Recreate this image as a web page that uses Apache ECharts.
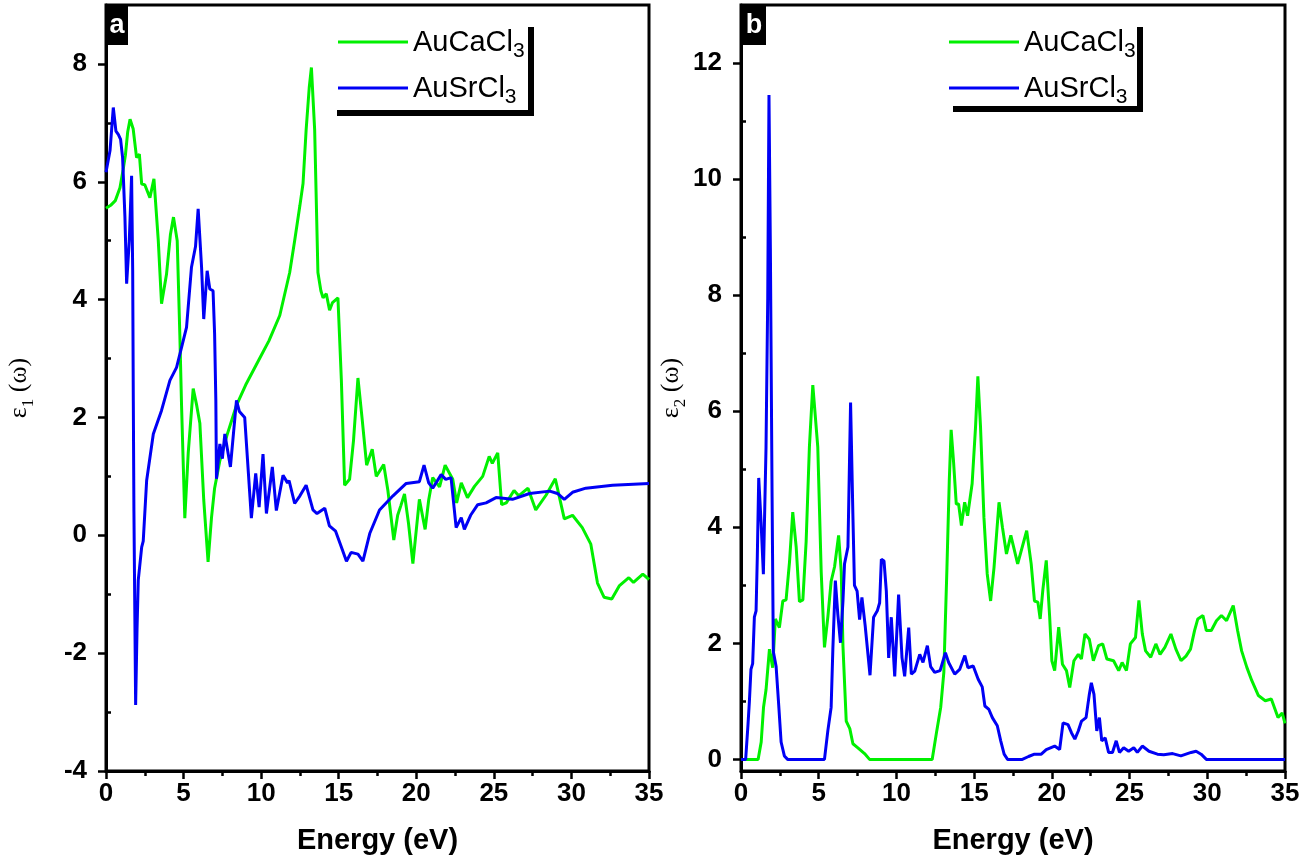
<!DOCTYPE html>
<html><head><meta charset="utf-8">
<script src="https://cdn.jsdelivr.net/npm/echarts@6/dist/echarts.min.js"></script>
<style>html,body{margin:0;padding:0;background:#fff}#c{width:1306px;height:865px}</style>
</head><body><div id="c"></div>
<script>
const materials = ['AuCaCl3', 'AuSrCl3'];
const panelLabels = ['a', 'b'];
const xLabelName = 'Energy (eV)';

// Panel a: real part epsilon_1 (Energy eV, value)
const eps1_AuCaCl3 = [[0,5.55],[0.3,5.6],[0.6,5.68],[0.9,5.9],[1.1,6.2],[1.25,6.45],[1.4,6.85],[1.55,7.06],[1.75,6.9],[1.97,6.41],[2.15,6.47],[2.3,5.96],[2.5,5.95],[2.62,5.96],[2.83,5.73],[3.09,6.05],[3.37,5.0],[3.58,3.93],[3.9,4.43],[4.15,5.1],[4.35,5.4],[4.59,5.0],[4.76,3.4],[4.87,2.2],[5.08,0.29],[5.3,1.4],[5.62,2.49],[5.85,2.2],[6.05,1.9],[6.3,0.6],[6.58,-0.45],[6.8,0.3],[7.0,0.8],[7.34,1.27],[7.8,1.7],[8.4,2.2],[9.0,2.55],[9.9,3.0],[10.5,3.3],[11.2,3.73],[11.84,4.46],[12.16,5.0],[12.5,5.6],[12.7,5.97],[12.9,6.88],[13.1,7.6],[13.24,7.94],[13.45,6.88],[13.66,4.46],[13.85,4.15],[13.99,4.03],[14.2,4.1],[14.41,3.82],[14.6,3.95],[14.95,4.03],[15.17,2.64],[15.38,0.85],[15.7,0.95],[15.95,1.6],[16.24,2.67],[16.5,2.0],[16.8,1.19],[17.16,1.46],[17.42,1.0],[17.9,1.2],[18.17,0.76],[18.55,-0.08],[18.8,0.34],[19.0,0.5],[19.24,0.7],[19.5,0.2],[19.78,-0.48],[20.2,0.61],[20.57,0.1],[20.8,0.6],[21.06,0.98],[21.5,0.82],[21.86,1.19],[22.35,0.95],[22.6,0.55],[22.9,0.89],[23.3,0.64],[23.75,0.83],[24.28,1.0],[24.7,1.34],[24.9,1.22],[25.25,1.4],[25.5,0.52],[25.8,0.55],[26.3,0.76],[26.6,0.67],[27.2,0.8],[27.7,0.43],[28.36,0.68],[28.96,0.96],[29.54,0.28],[30.07,0.34],[30.7,0.13],[31.25,-0.15],[31.68,-0.81],[32.1,-1.05],[32.6,-1.08],[33.08,-0.86],[33.7,-0.72],[34.0,-0.8],[34.6,-0.66],[35,-0.75]];
const eps1_AuSrCl3 = [[0,6.16],[0.26,6.53],[0.47,7.26],[0.64,6.86],[0.8,6.8],[0.94,6.72],[1.07,6.41],[1.22,5.4],[1.33,4.27],[1.5,5.0],[1.65,6.1],[1.72,4.5],[1.76,2.29],[1.8,0.4],[1.91,-2.88],[2.0,-1.6],[2.08,-0.76],[2.3,-0.2],[2.4,-0.1],[2.62,0.93],[3.05,1.72],[3.58,2.12],[4.12,2.63],[4.55,2.85],[5.19,3.53],[5.51,4.55],[5.77,4.9],[5.94,5.54],[6.16,4.55],[6.3,3.67],[6.52,4.49],[6.69,4.18],[6.9,4.15],[7.0,3.42],[7.08,2.29],[7.12,0.96],[7.34,1.55],[7.5,1.3],[7.66,1.72],[8.02,1.16],[8.41,2.29],[8.6,2.1],[8.94,2.0],[9.37,0.29],[9.65,1.05],[9.87,0.48],[10.12,1.38],[10.34,0.37],[10.72,1.16],[10.98,0.42],[11.41,1.02],[11.7,0.89],[11.8,0.93],[12.16,0.54],[12.5,0.67],[12.9,0.85],[13.34,0.43],[13.6,0.37],[14.1,0.46],[14.4,0.16],[14.8,0.07],[15.17,-0.2],[15.5,-0.44],[15.8,-0.29],[16.24,-0.32],[16.56,-0.44],[17.0,0.03],[17.63,0.43],[18.5,0.67],[19.35,0.88],[20.2,0.91],[20.5,1.19],[20.8,0.89],[21.06,0.8],[21.6,1.03],[21.9,0.95],[22.24,0.98],[22.57,0.13],[22.9,0.3],[23.1,0.1],[23.5,0.34],[23.96,0.52],[24.5,0.55],[25.14,0.64],[26.2,0.61],[27.3,0.71],[28.6,0.75],[29.1,0.71],[29.54,0.61],[30.07,0.73],[30.93,0.8],[32.65,0.85],[35,0.88]];

// Panel b: imaginary part epsilon_2
const eps2_AuCaCl3 = [[0,0],[1.1,0],[1.3,0.3],[1.45,0.9],[1.61,1.2],[1.83,1.9],[2.04,1.58],[2.21,2.42],[2.47,2.27],[2.69,2.73],[2.9,2.75],[3.12,3.4],[3.33,4.26],[3.55,3.66],[3.76,2.72],[3.98,2.75],[4.19,3.75],[4.4,5.38],[4.62,6.45],[4.94,5.38],[5.16,3.23],[5.37,1.93],[5.59,2.46],[5.8,3.07],[6.02,3.32],[6.28,3.86],[6.45,3.23],[6.56,1.95],[6.77,0.66],[7.0,0.53],[7.2,0.27],[7.52,0.2],[7.95,0.1],[8.27,0],[12.3,0],[12.6,0.5],[12.85,0.9],[13.05,1.5],[13.25,3.3],[13.4,4.8],[13.52,5.68],[13.67,5.15],[13.85,4.4],[14.0,4.4],[14.18,4.03],[14.39,4.43],[14.58,4.2],[14.87,4.75],[15.09,5.73],[15.24,6.6],[15.41,5.73],[15.63,4.17],[15.84,3.2],[16.06,2.73],[16.28,3.31],[16.6,4.43],[16.82,4.0],[17.08,3.54],[17.36,3.86],[17.8,3.37],[18.38,3.94],[18.67,3.37],[18.88,2.73],[19.1,2.71],[19.25,2.42],[19.42,2.92],[19.64,3.43],[19.86,2.45],[20.0,1.7],[20.18,1.53],[20.44,2.28],[20.68,1.64],[20.94,1.53],[21.15,1.24],[21.42,1.7],[21.7,1.81],[21.9,1.73],[22.13,2.16],[22.41,2.07],[22.67,1.7],[23.0,1.96],[23.27,1.99],[23.54,1.73],[23.97,1.7],[24.3,1.53],[24.52,1.67],[24.8,1.53],[25.05,1.99],[25.38,2.1],[25.6,2.74],[25.82,2.16],[26.03,1.87],[26.36,1.76],[26.69,1.99],[26.96,1.81],[27.27,1.93],[27.66,2.16],[27.98,1.9],[28.31,1.7],[28.63,1.78],[28.92,1.9],[29.18,2.22],[29.39,2.42],[29.72,2.48],[29.94,2.22],[30.26,2.22],[30.59,2.39],[30.91,2.48],[31.24,2.39],[31.67,2.65],[31.95,2.22],[32.21,1.87],[32.54,1.59],[32.86,1.36],[33.29,1.1],[33.73,1.01],[34.12,1.04],[34.55,0.72],[34.82,0.8],[35,0.62]];
const eps2_AuSrCl3 = [[0,0],[0.3,0],[0.45,0.6],[0.54,1.0],[0.64,1.55],[0.75,1.65],[0.86,2.45],[0.97,2.56],[1.05,3.5],[1.14,4.85],[1.29,4.09],[1.44,3.19],[1.61,5.38],[1.72,7.95],[1.8,11.45],[1.89,8.8],[2.0,4.52],[2.08,1.86],[2.26,1.6],[2.43,0.92],[2.58,0.3],[2.79,0.06],[3.0,0],[5.37,0],[5.59,0.5],[5.8,0.9],[5.91,1.9],[6.07,3.08],[6.23,2.5],[6.4,2.01],[6.56,2.73],[6.66,3.37],[6.88,3.66],[7.05,6.15],[7.2,4.2],[7.3,3.0],[7.47,2.9],[7.63,2.41],[7.78,2.79],[7.99,2.3],[8.3,1.45],[8.53,2.45],[8.77,2.56],[8.92,2.7],[9.03,3.45],[9.2,3.42],[9.35,2.9],[9.5,1.75],[9.67,2.45],[9.89,1.43],[10.14,2.84],[10.36,1.75],[10.53,1.43],[10.79,2.27],[10.96,1.47],[11.18,1.52],[11.5,1.81],[11.71,1.67],[11.99,1.96],[12.2,1.6],[12.46,1.5],[12.81,1.53],[13.15,1.84],[13.36,1.67],[13.75,1.47],[14.07,1.55],[14.4,1.79],[14.6,1.58],[14.94,1.61],[15.26,1.38],[15.52,1.25],[15.69,0.92],[15.95,0.86],[16.17,0.72],[16.49,0.58],[16.71,0.32],[16.93,0.09],[17.15,0],[18.1,0],[18.5,0.05],[18.88,0.09],[19.32,0.09],[19.64,0.17],[20.18,0.23],[20.5,0.17],[20.72,0.63],[21.04,0.6],[21.26,0.46],[21.48,0.35],[21.7,0.49],[21.91,0.66],[22.2,0.72],[22.41,1.12],[22.54,1.32],[22.71,1.12],[22.89,0.49],[23.06,0.72],[23.21,0.32],[23.43,0.37],[23.65,0.12],[23.9,0.12],[24.14,0.32],[24.35,0.12],[24.62,0.2],[24.94,0.14],[25.27,0.2],[25.5,0.12],[25.82,0.23],[26.25,0.14],[26.79,0.09],[27.2,0.08],[27.77,0.1],[28.3,0.06],[28.96,0.12],[29.28,0.14],[29.6,0.09],[29.94,0],[35,0]];

// Tick values
const yTicksA = [-4, -2, 0, 2, 4, 6, 8];
const yMinorA = [-3, -1, 1, 3, 5, 7];
const yTicksB = [0, 2, 4, 6, 8, 10, 12];
const yMinorB = [1, 3, 5, 7, 9, 11];

const SANS = '"Liberation Sans", Arial, sans-serif';
const SERIF = '"Liberation Serif", "DejaVu Serif", serif';
const GREEN = '#00f000';
const BLUE = '#0000f5';

const chart = echarts.init(document.getElementById('c'), null, {renderer: 'canvas'});

function xAxisCfg(gi) {
  return {
    type: 'value', gridIndex: gi, min: 0, max: 35, interval: 5,
    axisLine: {onZero: false, lineStyle: {color: '#000', width: 3}},
    axisTick: {show: true, inside: false, length: 8, lineStyle: {color: '#000', width: 2.5}},
    minorTick: {show: true, splitNumber: 2, length: 5, lineStyle: {color: '#000', width: 2.5}},
    splitLine: {show: false}, minorSplitLine: {show: false},
    axisLabel: {margin: 10, fontSize: 26, fontWeight: 'bold', color: '#000', fontFamily: SANS},
    name: xLabelName, nameLocation: 'middle', nameGap: 55,
    nameTextStyle: {fontSize: 29, fontWeight: 'bold', color: '#000', fontFamily: SANS}
  };
}
function yMainCfg(gi, min, max, ticks, sub, gap) {
  return {
    type: 'value', gridIndex: gi, min: min, max: max,
    axisLine: {show: true, onZero: false, lineStyle: {color: '#000', width: 3}},
    axisTick: {show: true, inside: false, length: 8, customValues: ticks, lineStyle: {color: '#000', width: 2.5}},
    axisLabel: {customValues: ticks, margin: 19, fontSize: 26, fontWeight: 'bold', color: '#000', fontFamily: SANS},
    splitLine: {show: false},
    name: '{e|ε}{s|' + sub + '}{e| (ω)}', nameLocation: 'middle', nameGap: gap,
    nameTextStyle: {
      color: '#000',
      rich: {
        e: {fontSize: 26, fontFamily: SERIF, color: '#000', lineHeight: 30, verticalAlign: 'bottom'},
        s: {fontSize: 17, fontFamily: SERIF, color: '#000', height: 6, verticalAlign: 'bottom'}
      }
    }
  };
}
function yMinorCfg(gi, min, max, ticks) {
  return {
    type: 'value', gridIndex: gi, min: min, max: max,
    axisLine: {show: false},
    axisTick: {show: true, inside: false, length: 5, customValues: ticks, lineStyle: {color: '#000', width: 2.5}},
    axisLabel: {show: false}, splitLine: {show: false}
  };
}
function legendCfg(left) {
  return {
    left: left, top: 23, orient: 'vertical', icon: 'rect', itemWidth: 70, itemHeight: 3, itemGap: 12,
    data: materials, selectedMode: false,
    formatter: function (n) { return '{n|' + n.slice(0, -1) + '}{s|' + n.slice(-1) + '}'; },
    textStyle: {
      color: '#000',
      rich: {
        n: {fontSize: 29, fontFamily: SANS, color: '#000', lineHeight: 30, verticalAlign: 'bottom'},
        s: {fontSize: 21, fontFamily: SANS, color: '#000', height: 11, verticalAlign: 'bottom'}
      }
    }
  };
}
function lineSeries(name, xi, yi, data, color) {
  return {
    type: 'line', name: name, xAxisIndex: xi, yAxisIndex: yi, data: data,
    symbol: 'none', showSymbol: false, animation: false,
    lineStyle: {color: color, width: 3}, itemStyle: {color: color}
  };
}

const option = {
  backgroundColor: '#fff',
  animation: false,
  grid: [
    {left: 106, top: 5, width: 543, height: 766, show: true, borderColor: '#000', borderWidth: 3},
    {left: 741, top: 5, width: 544, height: 766, show: true, borderColor: '#000', borderWidth: 3}
  ],
  xAxis: [xAxisCfg(0), xAxisCfg(1)],
  yAxis: [
    yMainCfg(0, -4, 9, yTicksA, '1', 74),
    yMinorCfg(0, -4, 9, yMinorA),
    yMainCfg(1, -0.2, 13, yTicksB, '2', 55),
    yMinorCfg(1, -0.2, 13, yMinorB)
  ],
  legend: [legendCfg(333), legendCfg(944)],
  series: [
    lineSeries(materials[0], 0, 0, eps1_AuCaCl3, GREEN),
    lineSeries(materials[1], 0, 0, eps1_AuSrCl3, BLUE),
    lineSeries(materials[0], 1, 2, eps2_AuCaCl3, GREEN),
    lineSeries(materials[1], 1, 2, eps2_AuSrCl3, BLUE)
  ],
  graphic: [
    {type: 'rect', z: 100, shape: {x: 106, y: 5, width: 22, height: 40}, style: {fill: '#000'}},
    {type: 'text', z: 101, x: 117, y: 26, style: {text: panelLabels[0], fill: '#fff', font: 'bold 27px "Liberation Sans", Arial', align: 'center', verticalAlign: 'middle'}},
    {type: 'rect', z: 100, shape: {x: 741, y: 5, width: 25, height: 40}, style: {fill: '#000'}},
    {type: 'text', z: 101, x: 754, y: 26, style: {text: panelLabels[1], fill: '#fff', font: 'bold 27px "Liberation Sans", Arial', align: 'center', verticalAlign: 'middle'}},
    {type: 'rect', z: 100, shape: {x: 528, y: 27, width: 6, height: 89}, style: {fill: '#000'}},
    {type: 'rect', z: 100, shape: {x: 337, y: 110, width: 197, height: 6}, style: {fill: '#000'}},
    {type: 'rect', z: 100, shape: {x: 1137, y: 27, width: 6, height: 85}, style: {fill: '#000'}},
    {type: 'rect', z: 100, shape: {x: 953, y: 106, width: 190, height: 6}, style: {fill: '#000'}}
  ]
};
chart.setOption(option);
</script>
</body></html>
